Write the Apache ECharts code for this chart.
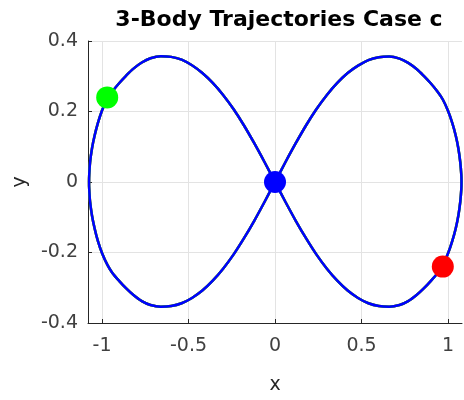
<!DOCTYPE html>
<html lang="en">
<head>
    <meta charset="UTF-8">
    <title>3-Body Trajectories Case c</title>
    <script src="https://cdn.jsdelivr.net/npm/echarts@6/dist/echarts.min.js"></script>
    <style>
        body { margin: 0; background: #fff; }
        #chart { width: 464px; height: 400px; }
    </style>
</head>
<body>
    <div id="chart"></div>
    <script>
        // figure-eight path, one loop (right lobe then left lobe)
        const orbitPath = [
            [0, 0], [0.06, 0.056], [0.12, 0.11], [0.18, 0.161], [0.24, 0.207], [0.3, 0.247],
            [0.36, 0.281], [0.42, 0.309], [0.48, 0.33], [0.54, 0.346], [0.6, 0.354], [0.66, 0.356],
            [0.72, 0.35], [0.77, 0.338], [0.82, 0.32], [0.86, 0.301], [0.9, 0.28], [0.94, 0.256],
            [0.97, 0.234], [1.0, 0.202], [1.025, 0.167], [1.045, 0.131], [1.06, 0.095], [1.071, 0.056],
            [1.077, 0.02], [1.078, 0], [1.077, -0.02], [1.071, -0.056], [1.06, -0.095], [1.045, -0.131],
            [1.025, -0.167], [1.0, -0.203], [0.97, -0.236], [0.94, -0.258], [0.9, -0.281], [0.86, -0.302],
            [0.82, -0.32], [0.77, -0.338], [0.72, -0.349], [0.66, -0.354], [0.6, -0.352], [0.54, -0.344],
            [0.48, -0.329], [0.42, -0.308], [0.36, -0.28], [0.3, -0.246], [0.24, -0.206], [0.18, -0.16],
            [0.12, -0.11], [0.06, -0.056], [0, 0],
            [-0.06, 0.056], [-0.12, 0.11], [-0.18, 0.161], [-0.24, 0.207], [-0.3, 0.247], [-0.36, 0.281],
            [-0.42, 0.309], [-0.48, 0.331], [-0.54, 0.347], [-0.6, 0.355], [-0.66, 0.357], [-0.72, 0.351],
            [-0.77, 0.339], [-0.82, 0.321], [-0.86, 0.302], [-0.9, 0.281], [-0.94, 0.257], [-0.97, 0.236],
            [-1.0, 0.203], [-1.024, 0.167], [-1.043, 0.131], [-1.058, 0.095], [-1.069, 0.056], [-1.074, 0.02],
            [-1.075, 0], [-1.074, -0.02], [-1.069, -0.056], [-1.058, -0.095], [-1.043, -0.131], [-1.024, -0.167],
            [-0.999, -0.203], [-0.968, -0.236], [-0.94, -0.258], [-0.9, -0.281], [-0.86, -0.302], [-0.82, -0.32],
            [-0.77, -0.338], [-0.72, -0.349], [-0.66, -0.354], [-0.6, -0.352], [-0.54, -0.344], [-0.48, -0.329],
            [-0.42, -0.308], [-0.36, -0.28], [-0.3, -0.246], [-0.24, -0.206], [-0.18, -0.16], [-0.12, -0.11],
            [-0.06, -0.056], [0, 0]
        ];
        // final positions of the three bodies
        const body1 = [[0.97, -0.24]];
        const body2 = [[-0.97, 0.24]];
        const body3 = [[0, 0]];
        const xTicks = [-1, -0.5, 0, 0.5, 1];
        const yTicks = [-0.4, -0.2, 0, 0.2, 0.4];

        const font = 'DejaVu Sans';
        const chart = echarts.init(document.getElementById('chart'));

        function pathSeries(color) {
            return {
                type: 'line',
                data: orbitPath,
                smooth: 0.3,
                showSymbol: false,
                lineStyle: { color: color, width: 2.5 },
                animation: false
            };
        }
        function dotSeries(data, color) {
            return {
                type: 'scatter',
                data: data,
                symbolSize: 22,
                itemStyle: { color: color, opacity: 1 },
                z: 5,
                animation: false
            };
        }

        const option = {
            title: {
                text: '3-Body Trajectories Case c',
                left: 274,
                top: 4,
                textAlign: 'center',
                textStyle: { fontFamily: font, fontSize: 22, fontWeight: 'bold', color: '#000' }
            },
            grid: { left: 88, right: 2, top: 41, bottom: 76 },
            xAxis: {
                type: 'value',
                min: -1.081,
                max: 1.081,
                name: 'x',
                nameLocation: 'middle',
                nameGap: 53,
                nameTextStyle: { fontFamily: font, fontSize: 19, color: '#262626' },
                axisLine: { onZero: false, lineStyle: { color: '#262626', width: 1 } },
                axisTick: { inside: true, length: 4, customValues: xTicks, lineStyle: { color: '#262626' } },
                axisLabel: { customValues: xTicks, margin: 14, fontFamily: font, fontSize: 19, color: '#404040' },
                splitLine: { show: true, lineStyle: { color: '#e3e3e3' } }
            },
            yAxis: {
                type: 'value',
                min: -0.4,
                max: 0.4,
                interval: 0.2,
                name: 'y',
                nameLocation: 'middle',
                nameGap: 58,
                nameTextStyle: { fontFamily: font, fontSize: 19, color: '#262626' },
                axisLine: { show: true, onZero: false, lineStyle: { color: '#262626', width: 1 } },
                axisTick: { show: true, inside: true, length: 4, customValues: yTicks, lineStyle: { color: '#262626' } },
                axisLabel: { customValues: yTicks, margin: 10, fontFamily: font, fontSize: 19, color: '#404040' },
                splitLine: { show: true, lineStyle: { color: '#e3e3e3' } }
            },
            series: [
                pathSeries('#ff0000'),
                pathSeries('#00ff00'),
                pathSeries('#0000ff'),
                dotSeries(body2, '#00ff00'),
                dotSeries(body3, '#0000ff'),
                dotSeries(body1, '#ff0000')
            ]
        };
        chart.setOption(option);
    </script>
</body>
</html>
